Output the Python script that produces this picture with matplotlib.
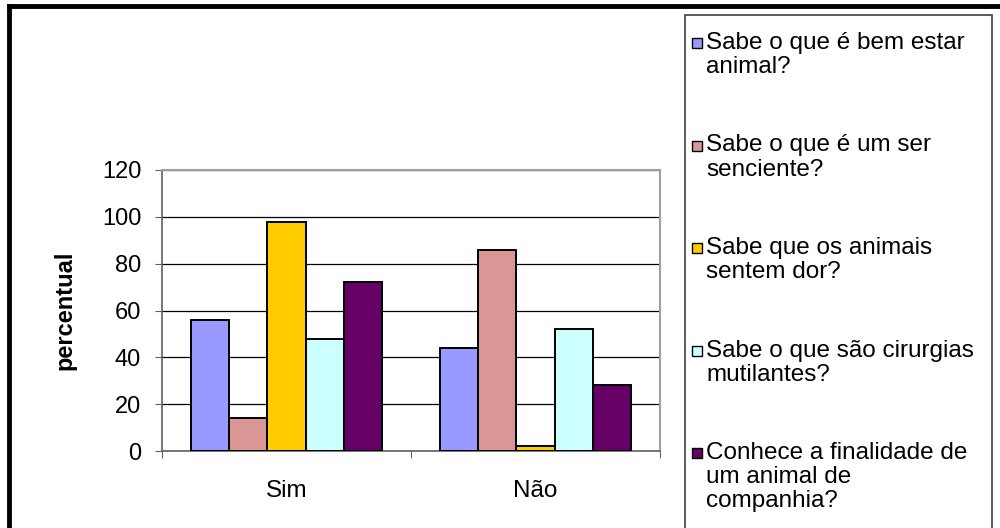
import matplotlib.pyplot as plt
from matplotlib.lines import Line2D
from matplotlib.patches import Rectangle

plt.rcParams['font.family'] = ['Liberation Sans', 'DejaVu Sans']

# dados
categorias = ["Sim", "Não"]
series = [
    "Sabe o que é bem estar\nanimal?",
    "Sabe o que é um ser\nsenciente?",
    "Sabe que os animais\nsentem dor?",
    "Sabe o que são cirurgias\nmutilantes?",
    "Conhece a finalidade de\num animal de\ncompanhia?",
]
bem_estar = [56, 44]
senciente = [14, 86]
dor = [98, 2]
cirurgias = [48, 52]
companhia = [72, 28]
valores = [bem_estar, senciente, dor, cirurgias, companhia]
cores = ["#9999FF", "#D99694", "#FFCC00", "#CCFFFF", "#660066"]

fig = plt.figure(figsize=(10, 5.28), dpi=100)
ax = fig.add_axes([0.162, 1 - 451 / 528, 0.498, (451 - 170) / 528])

largura = 0.154
pos = range(len(categorias))
for i, (vals, cor) in enumerate(zip(valores, cores)):
    xs = [p + (i - 2) * largura for p in pos]
    ax.bar(xs, vals, width=largura, color=cor, edgecolor="black",
           linewidth=1.4, zorder=3)

ax.set_xlim(-0.5, 1.5)
ax.set_ylim(0, 120)
ax.set_yticks(range(0, 121, 20))
ax.yaxis.grid(True, color="black", linewidth=0.9, zorder=0)
ax.set_xticks([-0.5, 0.5, 1.5])
ax.set_xticklabels([])
ax.set_xticks(list(pos), minor=True)
ax.set_xticklabels(categorias, minor=True, fontsize=17.5)
ax.tick_params(axis="x", which="minor", length=0, pad=21)
ax.tick_params(axis="x", which="major", length=5, color="#606060")
ax.tick_params(axis="y", length=5, color="#606060", labelsize=17, pad=10)
for lado in ["left", "bottom"]:
    ax.spines[lado].set_color("#606060")
    ax.spines[lado].set_linewidth(1.2)
for lado in ["top", "right"]:
    ax.spines[lado].set_color("#A0A0A0")
    ax.spines[lado].set_linewidth(1.5)
ax.set_ylabel("percentual", fontsize=17, fontweight="bold", labelpad=18)

# legenda manual
W, H = 1000, 528
fig.patches.append(Rectangle((685 / W, -0.01), (992 - 685) / W, 1 - 15 / H + 0.01,
                             transform=fig.transFigure, facecolor="white",
                             edgecolor="#404040", linewidth=1.2))
for i, (nome, cor) in enumerate(zip(series, cores)):
    y = 43 + i * 102.5
    fig.patches.append(Rectangle((692 / W, 1 - (y + 5) / H), 10 / W, 10 / H,
                                 transform=fig.transFigure, facecolor=cor,
                                 edgecolor="black", linewidth=1.0))
    fig.text(706 / W, 1 - (y - 11) / H, nome, fontsize=17.5, va="top", ha="left",
             linespacing=1.13)

# moldura
fig.add_artist(Line2D([9 / W, 1], [1 - 6 / H, 1 - 6 / H], color="black", linewidth=3.5))
fig.add_artist(Line2D([9 / W, 9 / W], [0, 1 - 6 / H], color="black", linewidth=3.5))

fig.savefig("out.png", dpi=100)
